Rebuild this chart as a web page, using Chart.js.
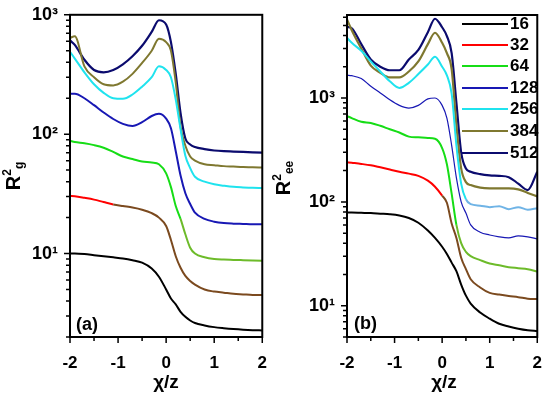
<!DOCTYPE html>
<html>
<head>
<meta charset="utf-8">
<script src="https://cdn.jsdelivr.net/npm/chart.js@4.4.1/dist/chart.umd.min.js"></script>
<style>
  html, body { margin:0; padding:0; background:#fff; }
  #wrap { position:relative; width:550px; height:395px; background:#fff; overflow:hidden;
          font-family:"Liberation Sans", Arial, sans-serif; font-weight:bold; color:#000; }
  .panel { position:absolute; top:0; width:275px; height:395px; }
  .lbl { position:absolute; white-space:nowrap; line-height:1; }
  .ytitle { position:absolute; white-space:nowrap; font-size:20px; line-height:1;
            transform:translate(-50%,-50%) rotate(-90deg); }
  .ytitle sup { font-size:12px; vertical-align:9px; }
  .ytitle sub { font-size:12px; vertical-align:-3px; }
  .xtitle { position:absolute; font-size:19px; transform:translateX(-50%); white-space:nowrap; line-height:1; }
  .leg { position:absolute; left:462px; height:21px; width:90px; }
  .leg span.ln { position:absolute; left:0; top:9px; width:46px; height:0; border-top:2.5px solid; }
  .leg span.tx { position:absolute; left:48px; top:1px; font-size:17px; line-height:1; }
</style>
</head>
<body>
<div id="wrap">
  <div class="panel" style="left:0"><canvas id="c1"></canvas></div>
  <div class="panel" style="left:275px"><canvas id="c2"></canvas></div>
  <div class="ytitle" style="left:13px;top:176px">R<sup>2</sup><sub>g</sub></div>
  <div class="ytitle" style="left:283px;top:178px">R<sup>2</sup><sub>ee</sub></div>
  <div class="xtitle" style="left:166px;top:372px">χ/z</div>
  <div class="xtitle" style="left:444px;top:372px">χ/z</div>
  <div class="lbl" style="left:76px;top:315px;font-size:18px">(a)</div>
  <div class="lbl" style="left:354px;top:314px;font-size:18px">(b)</div>
  <div id="legend"></div>
</div>
<script>
// ---- data ----
const X = [-2,-1.9,-1.7,-1.5,-1.3,-1.1,-0.9,-0.7,-0.5,-0.3,-0.15,0,0.1,0.2,0.3,0.4,0.5,0.6,0.8,1,1.2,1.4,1.6,1.8,2];
const LABELS = ['16','32','64','128','256','384','512'];

// panel (a): R_g^2
const L16  = [10.0,10.0,9.9,9.7,9.5,9.3,9.1,8.8,8.4,7.5,6.4,5.0,4.2,3.75,3.25,2.95,2.75,2.62,2.5,2.42,2.37,2.33,2.3,2.28,2.27];
const L32  = [30.4,30.2,29.3,28.3,27,25.8,25,24.3,23.3,21.8,20,17,13,9.5,7.6,6.5,5.9,5.5,5.0,4.8,4.7,4.6,4.55,4.5,4.5];
const L64  = [88,86,84,81,77,71,65,62,59,58,56,47,36,25,19.5,14.5,11.2,10,9.3,9.0,8.9,8.85,8.8,8.75,8.7];
const L128 = [218,218,200,175,152,134,122,117,126,142,148,135,112,72,45,32,26,22,19.5,18.5,18,17.8,17.7,17.6,17.6];
const L256 = [490,430,330,262,222,200,198,215,250,300,370,345,300,195,110,66,52,44,40,38,37,36.2,35.8,35.5,35.4];
const L384 = [640,660,370,300,262,256,275,320,395,500,630,590,500,270,115,80,65,60,56,55,54,53.5,53,52.8,52.5];
const L512 = [610,560,420,345,330,345,385,450,550,720,900,830,590,320,150,92,82,78,75,73,72,71.5,71,70.5,70];

// panel (b): R_ee^2
const R16  = [79,79,78.5,78,77,76,74,70,63,53,45,37,31.5,26,21.5,16,12.5,10.5,8.6,7.5,6.7,6.3,6.0,5.8,5.7];
const R32  = [241,238,232,225,215,205,195,187,178,160,140,115,98,62,45,29,22.5,18,15,13.3,12.8,12.4,12.1,11.7,11.6];
const R64  = [670,640,590,575,540,500,465,425,418,412,405,330,230,120,60,40,33,30,27.5,25.5,24.5,23.5,23,22.5,21.3];
const R128 = [1660,1640,1540,1300,1120,960,850,800,850,980,1000,850,640,350,170,100,78,60,51,48,46,45,47,46,44];
const R256 = [3800,3400,2850,2250,1800,1450,1250,1400,1700,2100,2500,2000,1650,1100,350,150,106,95,92,89,91,85,89,84,87];
const R384 = [5700,4500,3000,2050,1750,1580,1580,1800,2250,3300,4250,3400,2700,1900,550,210,155,145,137,135,135,135,132,122,113];
const R512 = [4850,4700,3300,2350,2000,1850,1850,2350,2900,4300,5800,4800,3950,2700,900,300,210,195,185,180,178,173,150,130,195];

const COLORS = ['#000000','#ff0000','#16dd16','#1818b4','#1fe3ee','#7f7830','#0b0b6e'];
const BROWN = '#7b4a1f', YGREEN = '#6dbb2a', LBLUE = '#70b4e6';

const FONT = {family:'"Liberation Sans", Arial, sans-serif', weight:'bold', size:17};
const YFONT = {family:'"Liberation Sans", Arial, sans-serif', weight:'bold', size:18};
const SUP = {'0':'⁰','1':'¹','2':'²','3':'³','4':'⁴'};

function pts(ys){ return X.map((x,i)=>({x:x, y:ys[i]})); }
function tailColor(th, col){ return ctx => (ctx.p0.parsed.x >= th - 1e-9 ? col : undefined); }

function makeDatasets(series, widths, tails){
  return series.map((ys,i)=>({
    label: LABELS[i],
    data: pts(ys),
    borderColor: COLORS[i],
    borderWidth: widths[i],
    pointRadius: 0,
    cubicInterpolationMode: 'monotone',
    fill: false,
    segment: tails[i] ? {borderColor: tailColor(tails[i][0], tails[i][1])} : undefined
  }));
}

const framePlugin = {
  id:'frame',
  afterDraw(chart){
    const {ctx, chartArea:a, scales:{x, y}} = chart;
    ctx.save();
    ctx.strokeStyle = '#000';
    ctx.lineWidth = 2;
    ctx.strokeRect(a.left, a.top, a.right-a.left, a.bottom-a.top);
    ctx.lineWidth = 1.5;
    ctx.beginPath();
    for (let k=-4; k<=4; k++){
      const v = k/2, px = x.getPixelForValue(v);
      const len = (k%2===0) ? 6 : 4;
      ctx.moveTo(px, a.bottom); ctx.lineTo(px, a.bottom+len);
    }
    const lo = Math.floor(Math.log10(y.min)), hi = Math.ceil(Math.log10(y.max));
    for (let d=lo; d<=hi; d++){
      for (let m=1; m<=9; m++){
        const v = m*Math.pow(10,d);
        if (v < y.min*0.999 || v > y.max*1.001) continue;
        const py = y.getPixelForValue(v);
        const len = (m===1) ? 6 : 4;
        ctx.moveTo(a.left-len, py); ctx.lineTo(a.left, py);
      }
    }
    ctx.stroke();
    ctx.restore();
  }
};

function makeChart(id, series, ymin, ymax, yWidth, padRight, padTop, widths, tails){
  return new Chart(document.getElementById(id), {
    type:'line',
    data:{ datasets: makeDatasets(series, widths, tails) },
    options:{
      responsive:true, maintainAspectRatio:false, animation:false,
      layout:{ padding:{left:0, right:padRight, top:padTop, bottom:0} },
      plugins:{ legend:{display:false}, tooltip:{enabled:false} },
      scales:{
        x:{ type:'linear', min:-2, max:2,
            ticks:{ stepSize:1, color:'#000', font:FONT, padding:8, callback:v=>String(v) },
            grid:{ display:false }, border:{ display:false },
            afterFit(s){ s.height = 58; } },
        y:{ type:'logarithmic', min:ymin, max:ymax,
            ticks:{ autoSkip:false, color:'#000', font:YFONT, padding:4,
              callback:(v)=>{ const l = Math.log10(v); const r = Math.round(l);
                return Math.abs(l-r) < 1e-9 ? '10'+SUP[String(r)] : ''; } },
            grid:{ display:false }, border:{ display:false },
            afterFit(s){ s.width = yWidth; } }
      }
    },
    plugins:[framePlugin]
  });
}

makeChart('c1', [L16,L32,L64,L128,L256,L384,L512], 2, 1000, 70, 9, 14,
  [2,2,2,2,2,2,2.2],
  [null,[-1.1,BROWN],[0.3,YGREEN],null,null,null,null]);

makeChart('c2', [R16,R32,R64,R128,R256,R384,R512], 5, 6300, 72, 8, 15,
  [2,2,2,1.2,2,2.2,2.2],
  [null,[0,BROWN],[0.3,YGREEN],null,[0.5,LBLUE],null,null]);

// legend (HTML)
const leg = document.getElementById('legend');
const rowY = [14,35,56,78,99,121,143];
LABELS.forEach((t,i)=>{
  const d = document.createElement('div');
  d.className = 'leg';
  d.style.top = rowY[i] + 'px';
  d.innerHTML = '<span class="ln" style="border-color:'+COLORS[i]+'"></span><span class="tx">'+t+'</span>';
  leg.appendChild(d);
});
</script>
</body>
</html>
